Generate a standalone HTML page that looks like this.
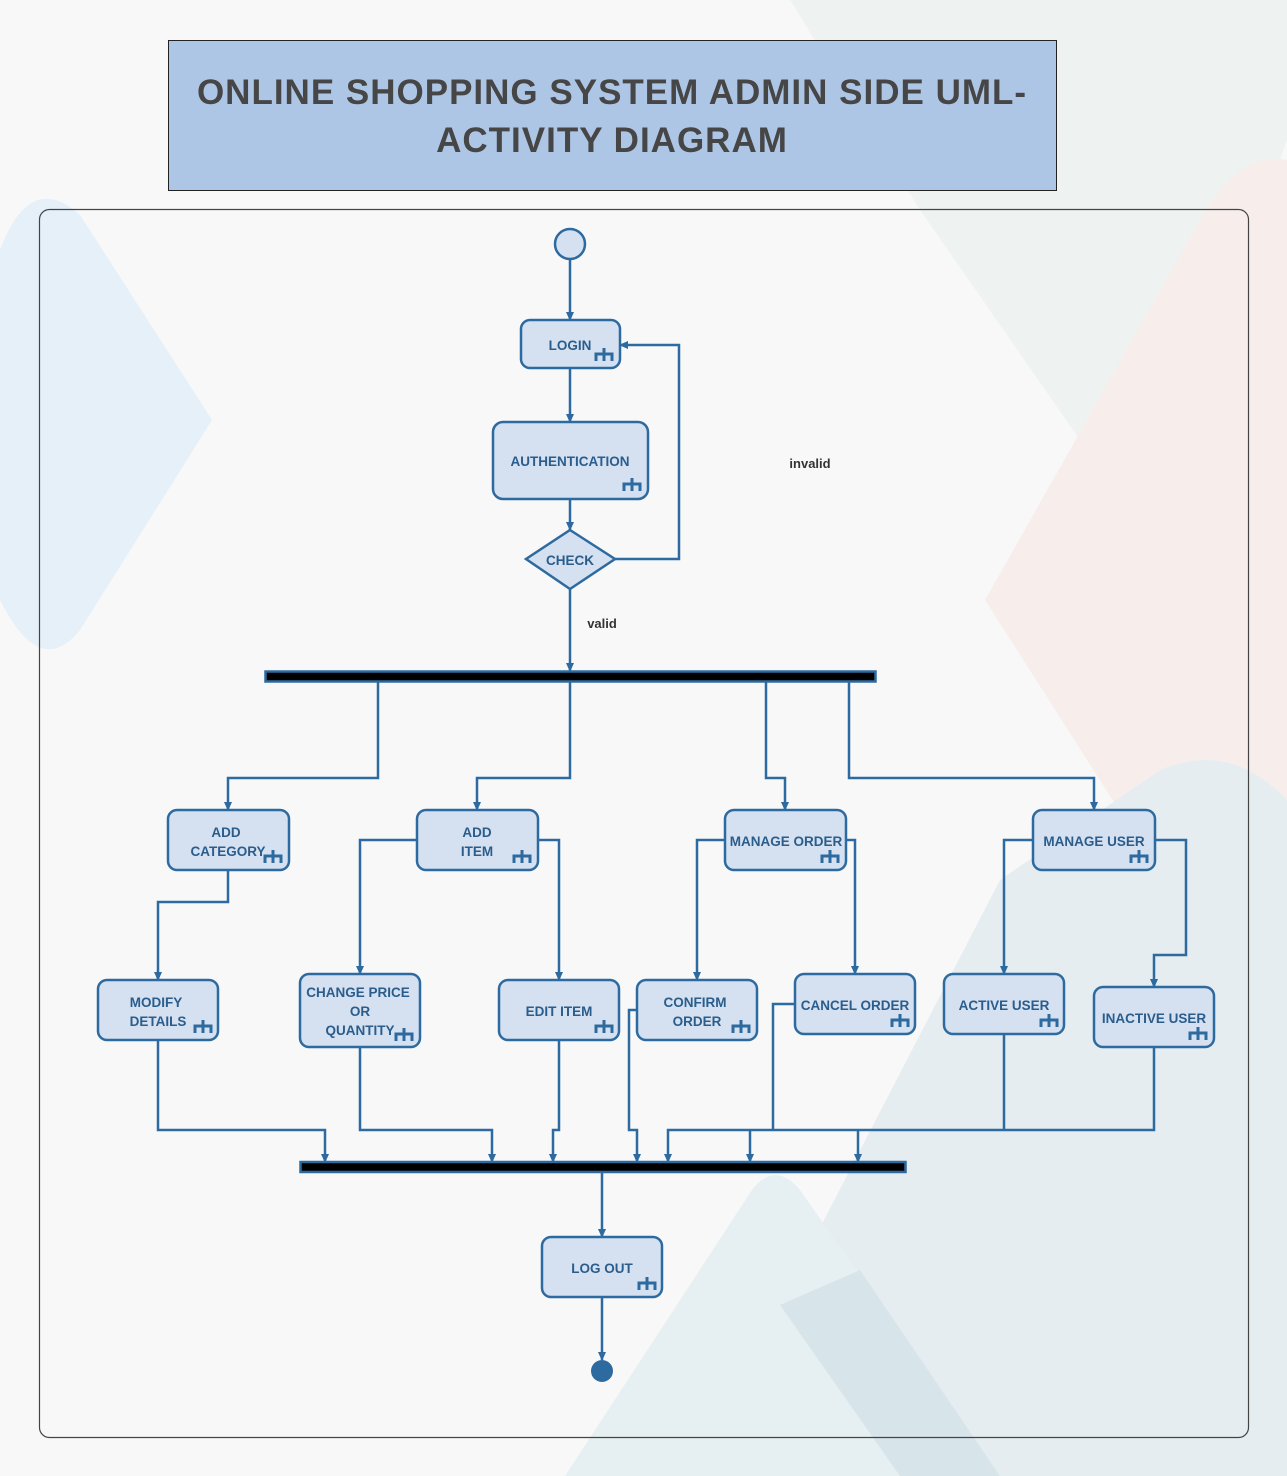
<!DOCTYPE html>
<html><head><meta charset="utf-8"><style>
html,body{margin:0;padding:0;background:#f8f8f8;}
svg{display:block;}
.n{fill:#d5e1f1;stroke:#2d6a9f;stroke-width:2.5;}
.t{font-family:"Liberation Sans",sans-serif;font-weight:bold;font-size:13.5px;fill:#2a5d8c;text-anchor:middle;}
.l{fill:none;stroke:#2d6a9f;stroke-width:2.5;}
</style></head><body>
<svg width="1287" height="1476" viewBox="0 0 1287 1476" xmlns="http://www.w3.org/2000/svg">
<defs>
<marker id="a" markerWidth="9" markerHeight="8" refX="8" refY="4" orient="auto" markerUnits="userSpaceOnUse">
<path d="M0,0 L9,4 L0,8 Z" fill="#2d6a9f"/>
</marker>
<g id="ic"><path d="M1,13 V6 H17 V13 M9,0 V13" fill="none" stroke="#2d6a9f" stroke-width="3"/></g>
</defs>
<rect width="1287" height="1476" fill="#f8f8f8"/>
<path d="M0,250 Q30,170 80,215 L212,420 L80,630 Q40,680 0,600 Z" fill="#e5f0f8"/>
<path d="M790,0 L1287,0 L1287,140 L1180,440 Q1130,500 1080,440 L920,210 Z" fill="#eef2f1"/>
<path d="M1287,160 Q1240,150 1200,220 L985,600 L1240,1000 Q1270,1040 1287,1030 Z" fill="#f7eeec"/>
<path d="M1287,800 Q1230,740 1160,770 L1000,880 L780,1305 L900,1476 L1287,1476 Z" fill="#e5edf0"/>
<path d="M565,1476 L752,1190 Q775,1160 800,1190 L1000,1476 Z" fill="#e6eff1"/>
<path d="M780,1305 L900,1476 L1000,1476 L860,1270 Z" fill="#d7e5ea"/>
<rect x="168.5" y="40.5" width="888" height="150" fill="#aec6e6" stroke="#222" stroke-width="1"/>
<text x="612" y="104" font-family="Liberation Sans,sans-serif" font-weight="bold" font-size="35" fill="#464646" text-anchor="middle" letter-spacing="1">ONLINE SHOPPING SYSTEM ADMIN SIDE UML-</text>
<text x="612" y="152" font-family="Liberation Sans,sans-serif" font-weight="bold" font-size="35" fill="#464646" text-anchor="middle" letter-spacing="1">ACTIVITY DIAGRAM</text>
<rect x="39.5" y="209.5" width="1209" height="1228" rx="10" fill="none" stroke="#444" stroke-width="1.2"/>
<g class="l">
<path d="M570,259 V320" marker-end="url(#a)"/>
<path d="M570,368 V422" marker-end="url(#a)"/>
<path d="M570,499 V530" marker-end="url(#a)"/>
<path d="M615,559 H679 V345 H620" marker-end="url(#a)"/>
<path d="M570,589 V671" marker-end="url(#a)"/>
<path d="M378,682 V778 H228 V810" marker-end="url(#a)"/>
<path d="M570,682 V778 H477 V810" marker-end="url(#a)"/>
<path d="M766,682 V778 H785 V810" marker-end="url(#a)"/>
<path d="M849,682 V778 H1094 V810" marker-end="url(#a)"/>
<path d="M228,870 V902 H158 V980" marker-end="url(#a)"/>
<path d="M417,840 H360 V974" marker-end="url(#a)"/>
<path d="M538,840 H559 V980" marker-end="url(#a)"/>
<path d="M725,840 H697 V980" marker-end="url(#a)"/>
<path d="M846,840 H855 V974" marker-end="url(#a)"/>
<path d="M1033,840 H1004 V974" marker-end="url(#a)"/>
<path d="M1155,840 H1186 V955 H1154 V987" marker-end="url(#a)"/>
<path d="M158,1040 V1130 H325 V1162" marker-end="url(#a)"/>
<path d="M360,1047 V1130 H492 V1162" marker-end="url(#a)"/>
<path d="M559,1040 V1130 H553 V1162" marker-end="url(#a)"/>
<path d="M637,1010 H629 V1130 H637 V1162" marker-end="url(#a)"/>
<path d="M795,1004 H773 V1130"/>
<path d="M1154,1047 V1130 H668 V1162" marker-end="url(#a)"/>
<path d="M1004,1034 V1130"/>
<path d="M750,1130 V1162" marker-end="url(#a)"/>
<path d="M858,1130 V1162" marker-end="url(#a)"/>
<path d="M602,1172 V1237" marker-end="url(#a)"/>
<path d="M602,1297 V1360" marker-end="url(#a)"/>
</g>
<path d="M125,984 L132,984 L128.5,991 Z" fill="#2d6a9f"/>
<circle cx="570" cy="244" r="15" class="n"/>
<circle cx="602" cy="1371" r="11" fill="#2d6a9f"/>
<rect x="265.5" y="671.5" width="610" height="10" fill="#000" stroke="#2d6a9f" stroke-width="2.5"/>
<rect x="300.5" y="1162" width="605" height="10" fill="#000" stroke="#2d6a9f" stroke-width="2.5"/>
<rect x="521" y="320" width="99" height="48" rx="9" class="n"/>
<text x="570" y="350" class="t">LOGIN</text><use href="#ic" x="595" y="348"/>
<rect x="493" y="422" width="155" height="77" rx="10" class="n"/>
<text x="570" y="466" class="t">AUTHENTICATION</text><use href="#ic" x="623" y="478"/>
<path d="M570,530 L615,559 L570,589 L526,559 Z" class="n"/>
<text x="570" y="565" class="t">CHECK</text>
<text x="810" y="468" font-family="Liberation Sans,sans-serif" font-weight="bold" font-size="13" fill="#333" text-anchor="middle">invalid</text>
<text x="602" y="628" font-family="Liberation Sans,sans-serif" font-weight="bold" font-size="13" fill="#333" text-anchor="middle">valid</text>
<rect x="168" y="810" width="121" height="60" rx="9" class="n"/>
<text x="226" y="837" class="t">ADD</text><text x="228" y="856" class="t">CATEGORY</text><use href="#ic" x="264" y="850"/>
<rect x="417" y="810" width="121" height="60" rx="9" class="n"/>
<text x="477" y="837" class="t">ADD</text><text x="477" y="856" class="t">ITEM</text><use href="#ic" x="513" y="850"/>
<rect x="725" y="810" width="121" height="60" rx="9" class="n"/>
<text x="786" y="846" class="t">MANAGE ORDER</text><use href="#ic" x="821" y="850"/>
<rect x="1033" y="810" width="122" height="60" rx="9" class="n"/>
<text x="1094" y="846" class="t">MANAGE USER</text><use href="#ic" x="1130" y="850"/>
<rect x="98" y="980" width="120" height="60" rx="9" class="n"/>
<text x="156" y="1007" class="t">MODIFY</text><text x="158" y="1026" class="t">DETAILS</text><use href="#ic" x="194" y="1020"/>
<rect x="300" y="974" width="120" height="73" rx="9" class="n"/>
<text x="358" y="997" class="t">CHANGE PRICE</text><text x="360" y="1016" class="t">OR</text><text x="360" y="1035" class="t">QUANTITY</text><use href="#ic" x="395" y="1028"/>
<rect x="499" y="980" width="120" height="60" rx="9" class="n"/>
<text x="559" y="1016" class="t">EDIT ITEM</text><use href="#ic" x="595" y="1020"/>
<rect x="637" y="980" width="120" height="60" rx="9" class="n"/>
<text x="695" y="1007" class="t">CONFIRM</text><text x="697" y="1026" class="t">ORDER</text><use href="#ic" x="732" y="1020"/>
<rect x="795" y="974" width="120" height="60" rx="9" class="n"/>
<text x="855" y="1010" class="t">CANCEL ORDER</text><use href="#ic" x="891" y="1014"/>
<rect x="944" y="974" width="120" height="60" rx="9" class="n"/>
<text x="1004" y="1010" class="t">ACTIVE USER</text><use href="#ic" x="1040" y="1014"/>
<rect x="1094" y="987" width="120" height="60" rx="9" class="n"/>
<text x="1154" y="1023" class="t">INACTIVE USER</text><use href="#ic" x="1189" y="1027"/>
<rect x="542" y="1237" width="120" height="60" rx="9" class="n"/>
<text x="602" y="1273" class="t">LOG OUT</text><use href="#ic" x="638" y="1277"/>
</svg>
</body></html>
